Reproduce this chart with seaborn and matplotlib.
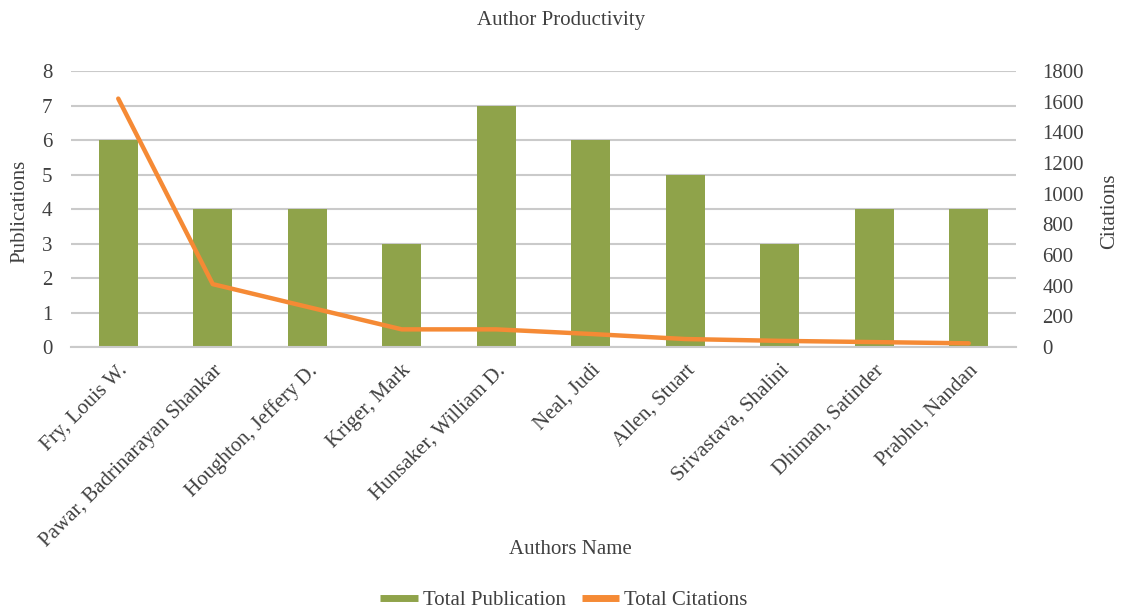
import matplotlib
matplotlib.use("Agg")
import matplotlib.pyplot as plt
from matplotlib.lines import Line2D
import seaborn as sns
import pandas as pd

authors = [
    "Fry, Louis W.",
    "Pawar, Badrinarayan Shankar",
    "Houghton, Jeffery D.",
    "Kriger, Mark",
    "Hunsaker, William D.",
    "Neal, Judi",
    "Allen, Stuart",
    "Srivastava, Shalini",
    "Dhiman, Satinder",
    "Prabhu, Nandan",
]
publications = [6, 4, 4, 3, 7, 6, 5, 3, 4, 4]
citations = [1620, 410, 262, 115, 115, 85, 52, 40, 32, 24]

df = pd.DataFrame({"Author": authors, "Publications": publications, "Citations": citations})

BAR = "#8FA34A"
LINE = "#F58A35"
TXT = "#404040"
GRID = "#CACACA"

sns.set_style("white")
plt.rcParams["font.family"] = ["Liberation Serif", "DejaVu Serif"]
plt.rcParams["font.size"] = 15
plt.rcParams["text.color"] = TXT
plt.rcParams["axes.labelcolor"] = TXT
plt.rcParams["xtick.color"] = TXT
plt.rcParams["ytick.color"] = TXT

fig = plt.figure(figsize=(11.22, 6.10), dpi=100)
ax = fig.add_axes([71 / 1122, 1 - 347 / 610, (1016 - 71) / 1122, (347 - 71) / 610])

sns.barplot(data=df, x="Author", y="Publications", order=authors, color=BAR,
            width=0.41, saturation=1, linewidth=0, edgecolor=BAR, ax=ax, zorder=2)
ax.set_ylim(0, 8)
ax.set_yticks(range(0, 9))
ax.yaxis.grid(True, color=GRID, linewidth=1.5, zorder=0)
ax.set_axisbelow(True)
for s in ["top", "right", "left"]:
    ax.spines[s].set_visible(False)
ax.spines["bottom"].set_color(GRID)
ax.spines["bottom"].set_linewidth(1.5)
ax.tick_params(axis="both", length=0, labelsize=15)
ax.tick_params(axis="y", pad=13.5)
ax.set_xlabel("")
ax.set_ylabel("")

ax2 = ax.twinx()
sns.pointplot(data=df, x="Author", y="Citations", order=authors, color=LINE,
              markers="", linestyles="-", linewidth=3.2, errorbar=None, ax=ax2)
ax2.set_ylim(0, 1800)
ax2.set_yticks(range(0, 1801, 200))
for s in ax2.spines.values():
    s.set_visible(False)
ax2.tick_params(axis="y", length=0, labelsize=15, pad=19)
ax2.set_ylabel("")
ax2.set_xlabel("")
ax.set_xlim(-0.5, len(authors) - 0.5)

ax.set_xticks(range(len(authors)))
ax.set_xticklabels(authors, rotation=45, ha="right", rotation_mode="anchor", fontsize=15)
ax.tick_params(axis="x", pad=10)

fig.text(20 / 1122, 1 - 211 / 610, "Publications", rotation=90, ha="center", va="center", fontsize=15)
fig.text(1110 / 1122, 1 - 211 / 610, "Citations", rotation=90, ha="center", va="center", fontsize=15)
fig.text(0.5, 1 - 20 / 610, "Author Productivity", ha="center", va="center", fontsize=15)
fig.text(570 / 1122, 1 - 550 / 610, "Authors Name", ha="center", va="center", fontsize=15)

handles = [Line2D([0], [0], color=BAR, lw=5, solid_capstyle="butt"),
           Line2D([0], [0], color=LINE, lw=5, solid_capstyle="butt")]
fig.legend(handles, ["Total Publication", "Total Citations"], loc="center",
           bbox_to_anchor=(564 / 1122, 1 - 600 / 610), ncol=2, frameon=False,
           fontsize=15, handlelength=1.8, handletextpad=0.25, columnspacing=0.75)

fig.savefig("out.png", dpi=100)
